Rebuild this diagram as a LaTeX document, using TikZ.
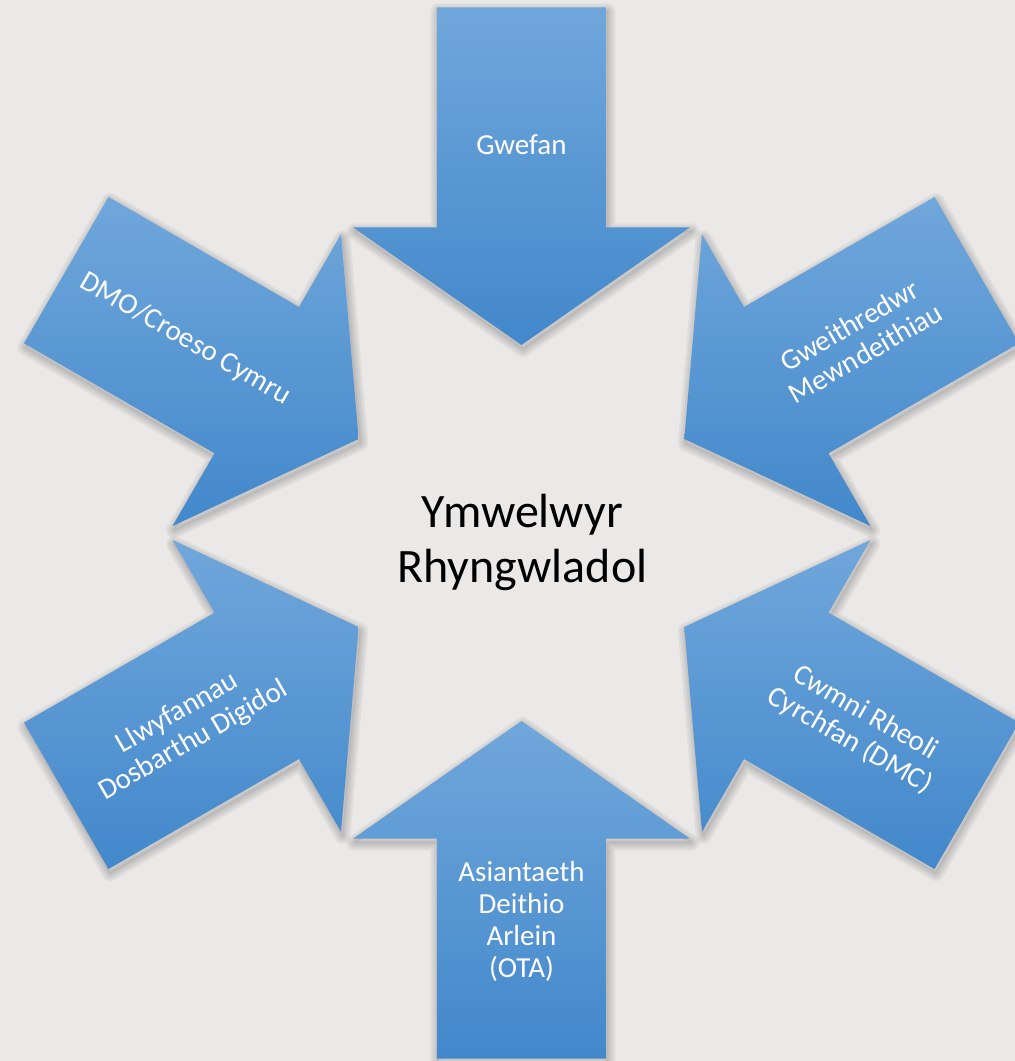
\documentclass[tikz,border=0pt]{standalone}
\usepackage{fontspec}
\setmainfont{Carlito}
\usepackage{tikz}
\usetikzlibrary{positioning, calc}

\definecolor{bgrey}{RGB}{235,233,231}
\definecolor{arrtop}{RGB}{112,167,219}
\definecolor{arrmid}{RGB}{85,154,218}
\definecolor{arrbot}{RGB}{66,136,203}

% one block arrow pointing at the centre, coming in from angle #1
\newcommand{\arrowpath}[1]{(#1:\tipd) -- ($(#1:\based)+(#1+90:\headw)$) -- ($(#1:\based)+(#1+90:\shaftw)$)
	-- ($(#1:\taild)+(#1+90:\shaftw)$) -- ($(#1:\taild)+(#1-90:\shaftw)$)
	-- ($(#1:\based)+(#1-90:\shaftw)$) -- ($(#1:\based)+(#1-90:\headw)$) -- cycle}

\begin{document}
\begin{tikzpicture}[x=1pt,y=1pt]
	\def \tipd{188}
	\def \based{305.7}
	\def \taild{525.7}
	\def \headw{168.5}
	\def \shaftw{84.5}
	\def \labd{388}
	\tikzstyle{a-shadow}=[black,line join=round,opacity=0.045]
	\tikzstyle{a-body}=[top color=arrtop,middle color=arrmid,bottom color=arrbot]
	\tikzstyle{a-label}=[text=white,align=center,inner sep=0pt,font=\fontsize{29}{32}\selectfont]
	\tikzstyle{c-label}=[text=black,align=center,inner sep=0pt,font=\fontsize{48}{55}\selectfont]
	% background
	\fill[bgrey] (-521.5,-528) rectangle (493.5,533);
	\useasboundingbox (-521.5,-528) rectangle (493.5,533);

	% arrows
	\foreach \a in {90,30,-30,-90,-150,150}{
		\begin{scope}[shift={(1.5,-4)}]
			\foreach \w in {16,12,8,4,1}
				\draw[a-shadow,line width=\w pt] \arrowpath{\a};
		\end{scope}
		\shade[a-body] \arrowpath{\a};
	}

	% labels
	\node[c-label] (ymwelwyr)	at (1,-9)	{Ymwelwyr\\Rhyngwladol};
	\node[a-label] (gwefan)	at (90:\labd)	{Gwefan};
	\node[a-label,rotate=30] (gweithredwr)	at (30:\labd)	{Gweithredwr\\Mewndeithiau};
	\node[a-label,rotate=-30] (cwmni)	at (-30:\labd)	{Cwmni Rheoli\\Cyrchfan (DMC)};
	\node[a-label] (asiantaeth)	at (-90:\labd)	{Asiantaeth\\Deithio\\Arlein\\(OTA)};
	\node[a-label,rotate=30] (llwyfannau)	at (-150:\labd)	{Llwyfannau\\Dosbarthu Digidol};
	\node[a-label,rotate=-30] (dmo)	at (150:\labd)	{DMO/Croeso Cymru};
\end{tikzpicture}
\end{document}
